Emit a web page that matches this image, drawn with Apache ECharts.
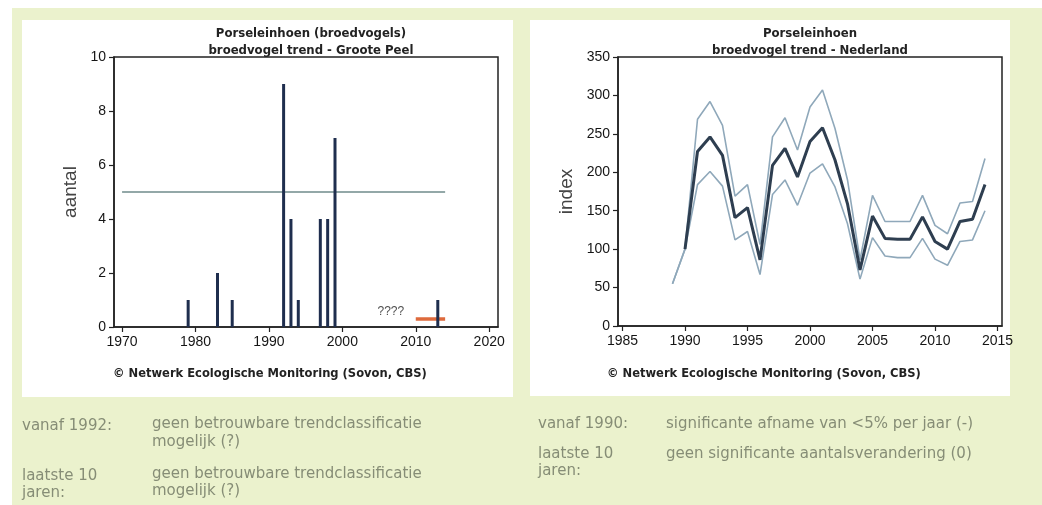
<!DOCTYPE html>
<html>
<head>
<meta charset="utf-8">
<script src="https://cdn.jsdelivr.net/npm/echarts@6/dist/echarts.min.js"></script>
<style>
html,body{margin:0;padding:0;background:#ffffff;}
#c{width:1042px;height:505px;}
</style>
</head>
<body>
<div id="c"></div>
<script>
// ---- Groote Peel (left) ----
const gpYears = [1979, 1983, 1985, 1992, 1993, 1994, 1997, 1998, 1999, 2013];
const gpCounts = [1, 2, 1, 9, 4, 1, 4, 4, 7, 1];
const gpRefLine = [[1970, 5], [2014, 5]];
const gpRecent = [[2010, 0.3], [2014, 0.3]];
const gpUnknownLabel = [[2006.6, 0.55]];
const gpXTicks = [1970, 1980, 1990, 2000, 2010, 2020];

// ---- Nederland (right) ----
const nlYears = [1989, 1990, 1991, 1992, 1993, 1994, 1995, 1996, 1997, 1998, 1999, 2000, 2001,
                 2002, 2003, 2004, 2005, 2006, 2007, 2008, 2009, 2010, 2011, 2012, 2013, 2014];
const nlIndex = [null, 100, 227, 246, 222, 141, 154, 86, 209, 231, 194, 240, 258,
                 216, 159, 73, 143, 114, 113, 113, 142, 110, 100, 136, 139, 184];
const nlUpper = [55, 100, 269, 292, 261, 169, 184, 106, 246, 271, 229, 285, 307,
                 257, 190, 86, 170, 136, 136, 136, 170, 131, 120, 160, 162, 218];
const nlLower = [55, 100, 184, 201, 182, 112, 123, 67, 171, 190, 157, 199, 211,
                 181, 133, 61, 115, 91, 89, 89, 114, 87, 79, 110, 112, 150];
const nlXTicks = [1985, 1990, 1995, 2000, 2005, 2010, 2015];

const pair = (xs, ys) => xs.map((x, i) => [x, ys[i]]);

const tickFont = {fontFamily: 'Liberation Sans, Arial, sans-serif', fontSize: 14, color: '#151515'};
const titleFont = '"DejaVu Sans Condensed", "DejaVu Sans", sans-serif';
const noteColor = '#868d76';
const noteFont = '15px "DejaVu Sans", Verdana, sans-serif';

function xAxisCfg(gridIndex, min, max, ticks) {
  return {
    type: 'value', gridIndex, min, max,
    axisLine: {show: true, onZero: false, lineStyle: {color: '#222', width: 1.5}},
    axisTick: {show: true, length: 5, customValues: ticks, lineStyle: {color: '#222', width: 1.2}},
    axisLabel: Object.assign({margin: 8, customValues: ticks, formatter: v => String(v)}, tickFont),
    splitLine: {show: false}
  };
}
function yAxisCfg(gridIndex, max, interval, name, nameGap) {
  return {
    type: 'value', gridIndex, min: 0, max, interval,
    name, nameLocation: 'middle', nameGap,
    nameTextStyle: {fontFamily: 'Liberation Sans, Arial, sans-serif', fontSize: 19, color: '#444'},
    axisLine: {show: true, lineStyle: {color: '#222', width: 1.5}},
    axisTick: {show: true, length: 5, lineStyle: {color: '#222', width: 1.2}},
    axisLabel: Object.assign({margin: 8}, tickFont),
    splitLine: {show: false}
  };
}

function txt(x, yCenter, s) {
  return {type: 'text', left: x, top: yCenter - 9, silent: true,
    style: {text: s, font: noteFont, fill: noteColor}};
}

const chart = echarts.init(document.getElementById('c'), null, {renderer: 'canvas'});
chart.setOption({
  backgroundColor: '#ffffff',
  animation: false,
  graphic: [
    {type: 'rect', z: -10, shape: {x: 12, y: 8, width: 1030, height: 497}, style: {fill: '#ebf2cd'}},
    {type: 'rect', z: -9, shape: {x: 22, y: 20, width: 491, height: 377}, style: {fill: '#ffffff'}},
    {type: 'rect', z: -9, shape: {x: 530, y: 20, width: 480, height: 376}, style: {fill: '#ffffff'}},
    {type: 'text', left: 113, top: 367, silent: true,
      style: {text: '© Netwerk Ecologische Monitoring (Sovon, CBS)', font: 'bold 12.8px ' + titleFont, fill: '#222'}},
    {type: 'text', left: 607, top: 367, silent: true,
      style: {text: '© Netwerk Ecologische Monitoring (Sovon, CBS)', font: 'bold 12.8px ' + titleFont, fill: '#222'}},
    txt(22, 428, 'vanaf 1992:'),
    txt(152, 426, 'geen betrouwbare trendclassificatie'),
    txt(152, 444, 'mogelijk (?)'),
    txt(22, 478, 'laatste 10'),
    txt(22, 495, 'jaren:'),
    txt(152, 476, 'geen betrouwbare trendclassificatie'),
    txt(152, 493, 'mogelijk (?)'),
    txt(538, 426, 'vanaf 1990:'),
    txt(666, 426, 'significante afname van <5% per jaar (-)'),
    txt(538, 456, 'laatste 10'),
    txt(538, 473, 'jaren:'),
    txt(666, 456, 'geen significante aantalsverandering (0)')
  ],
  title: [
    {text: 'Porseleinhoen (broedvogels)\nbroedvogel trend - Groote Peel', left: 306, top: 20, textAlign: 'center',
      textStyle: {fontFamily: titleFont, fontWeight: 'bold', fontSize: 13, color: '#222', lineHeight: 17}},
    {text: 'Porseleinhoen\nbroedvogel trend - Nederland', left: 805, top: 20, textAlign: 'center',
      textStyle: {fontFamily: titleFont, fontWeight: 'bold', fontSize: 13, color: '#222', lineHeight: 17}}
  ],
  grid: [
    {left: 114, top: 57, width: 384, height: 270, show: true, borderColor: '#222', borderWidth: 1.5, backgroundColor: 'transparent'},
    {left: 618, top: 57, width: 384, height: 269, show: true, borderColor: '#222', borderWidth: 1.5, backgroundColor: 'transparent'}
  ],
  xAxis: [
    xAxisCfg(0, 1968.9, 2021.2, gpXTicks),
    xAxisCfg(1, 1984.64, 2015.36, nlXTicks)
  ],
  yAxis: [
    yAxisCfg(0, 10, 2, 'aantal', 34),
    yAxisCfg(1, 350, 50, 'index', 42)
  ],
  series: [
    {type: 'line', xAxisIndex: 0, yAxisIndex: 0, data: gpRefLine, showSymbol: false, silent: true,
      lineStyle: {color: '#6f8b8b', width: 1.3}, z: 2},
    {type: 'line', xAxisIndex: 0, yAxisIndex: 0, data: gpRecent, showSymbol: false, silent: true,
      lineStyle: {color: '#de6a3c', width: 3.5}, z: 2},
    {type: 'bar', xAxisIndex: 0, yAxisIndex: 0, data: pair(gpYears, gpCounts), barWidth: 3,
      itemStyle: {color: '#1f2e4e'}, z: 3},
    {type: 'scatter', xAxisIndex: 0, yAxisIndex: 0, data: gpUnknownLabel, symbolSize: 0, silent: true,
      label: {show: true, formatter: '????', position: 'inside', fontFamily: 'Liberation Sans, Arial, sans-serif', fontSize: 12, color: '#222'}},
    {type: 'line', xAxisIndex: 1, yAxisIndex: 1, data: pair(nlYears, nlUpper), showSymbol: false, silent: true,
      lineStyle: {color: '#8fa8ba', width: 1.6}, z: 2},
    {type: 'line', xAxisIndex: 1, yAxisIndex: 1, data: pair(nlYears, nlLower), showSymbol: false, silent: true,
      lineStyle: {color: '#8fa8ba', width: 1.6}, z: 2},
    {type: 'line', xAxisIndex: 1, yAxisIndex: 1, data: pair(nlYears, nlIndex), showSymbol: false, silent: true,
      connectNulls: false, lineStyle: {color: '#2e3e50', width: 3}, z: 3}
  ]
});
</script>
</body>
</html>
